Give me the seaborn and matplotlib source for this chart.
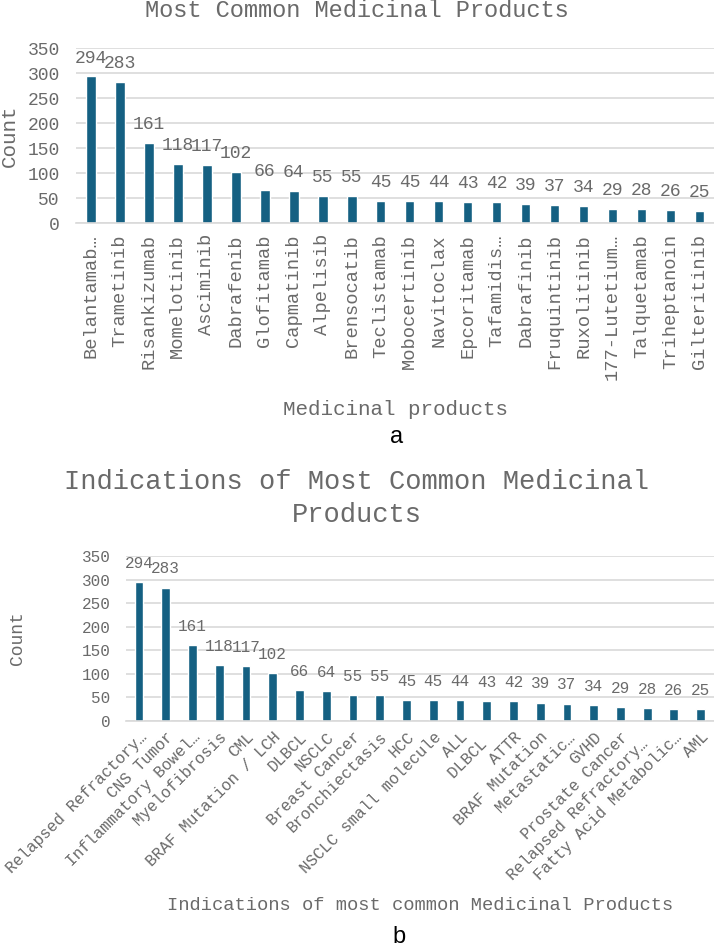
import matplotlib
matplotlib.use("Agg")
import matplotlib.pyplot as plt
import seaborn as sns
import pandas as pd

products = ["Belantamab…", "Trametinib", "Risankizumab", "Momelotinib", "Asciminib",
            "Dabrafenib", "Glofitamab", "Capmatinib", "Alpelisib", "Brensocatib",
            "Teclistamab", "Mobocertinib", "Navitoclax", "Epcoritamab", "Tafamidis…",
            "Dabrafinib", "Fruquintinib", "Ruxolitinib", "177-Lutetium…", "Talquetamab",
            "Triheptanoin", "Gilteritinib"]
product_counts = [294, 283, 161, 118, 117, 102, 66, 64, 55, 55, 45, 45, 44, 43, 42,
                  39, 37, 34, 29, 28, 26, 25]

indications = ["Relapsed Refractory…", "CNS Tumor", "Inflammatory Bowel…", "Myelofibrosis",
               "CML", "BRAF Mutation / LCH", "DLBCL", "NSCLC", "Breast Cancer",
               "Bronchiectasis", "HCC", "NSCLC small molecule", "ALL", "DLBCL ", "ATTR",
               "BRAF Mutation", "Metastatic…", "GVHD", "Prostate Cancer",
               "Relapsed Refractory… ", "Fatty Acid Metabolic…", "AML"]
indication_counts = [294, 283, 161, 118, 117, 102, 66, 64, 55, 55, 45, 45, 44, 43, 42,
                     39, 37, 34, 29, 28, 26, 25]

yticks = [0, 50, 100, 150, 200, 250, 300, 350]

sns.set_theme(style="white")
plt.rcParams['font.family'] = ['Liberation Mono', 'DejaVu Sans Mono']

BAR = "#156082"
GRID = "#D9D9D9"
TXT = "#6A6A6A"

fig = plt.figure(figsize=(7.14, 9.49), dpi=100)

def style(ax, tick_fs):
    ax.set_ylim(0, 350)
    ax.set_yticks(yticks)
    ax.yaxis.grid(True, color=GRID, linewidth=1.2)
    ax.set_axisbelow(True)
    for s in ["top", "right", "left"]:
        ax.spines[s].set_visible(False)
    ax.spines["bottom"].set_color(GRID)
    ax.spines["bottom"].set_linewidth(1.2)
    ax.tick_params(axis="both", length=0, colors=TXT, labelsize=tick_fs)

# ---- Top chart ----
ax1 = fig.add_axes([0.107, 0.765, 0.893, 0.184])
df1 = pd.DataFrame({"Product": products, "Count": product_counts})
sns.barplot(data=df1, x="Product", y="Count", color=BAR, width=0.33, ax=ax1,
            saturation=1)
style(ax1, 13)
ax1.set_xlim(-0.5, len(products) - 0.5)
ax1.tick_params(axis="x", rotation=90, pad=8, labelsize=13.5)
ax1.tick_params(axis="y", pad=12)
for c in ax1.containers:
    ax1.bar_label(c, padding=7, fontsize=13, color=TXT)
ax1.set_xlabel("Medicinal products", fontsize=15, color=TXT, labelpad=14)
ax1.set_ylabel("Count", fontsize=15, color=TXT, labelpad=6)
fig.text(0.5, 0.989, "Most Common Medicinal Products", ha="center", va="center",
         fontsize=17, color=TXT)
fig.text(0.556, 1 - 437 / 949, "a", ha="center", va="center", fontsize=17,
         color="black", family="Liberation Sans")

# ---- Bottom chart ----
ax2 = fig.add_axes([0.176, 0.2403, 0.824, 0.1738])
df2 = pd.DataFrame({"Indication": indications, "Count": indication_counts})
sns.barplot(data=df2, x="Indication", y="Count", color=BAR, width=0.33, ax=ax2,
            saturation=1)
style(ax2, 11.5)
ax2.set_xlim(-0.5, len(indications) - 0.5)
ax2.tick_params(axis="x", pad=6, labelsize=11.5)
for lab in ax2.get_xticklabels():
    lab.set_rotation(45)
    lab.set_ha("right")
    lab.set_va("top")
    lab.set_rotation_mode("anchor")
ax2.tick_params(axis="y", pad=11)
for c in ax2.containers:
    ax2.bar_label(c, padding=8, fontsize=11.5, color=TXT)
ax2.set_xlabel("Indications of most common Medicinal Products", fontsize=13.5,
               color=TXT, labelpad=10)
ax2.set_ylabel("Count", fontsize=13, color=TXT, labelpad=40)
fig.text(0.5, 1 - 482 / 949, "Indications of Most Common Medicinal",
         ha="center", va="center", fontsize=19.5, color=TXT)
fig.text(0.5, 1 - 515 / 949, "Products",
         ha="center", va="center", fontsize=19.5, color=TXT)
fig.text(0.559, 1 - 937 / 949, "b", ha="center", va="center", fontsize=17,
         color="black", family="Liberation Sans")

fig.savefig("out.png", dpi=100)
